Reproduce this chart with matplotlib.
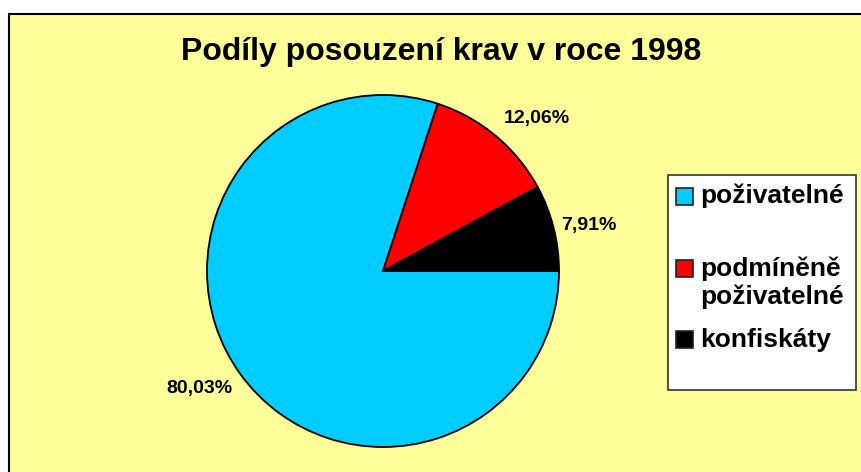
import matplotlib
matplotlib.use('Agg')
import matplotlib.pyplot as plt
import matplotlib.transforms as mtransforms
from matplotlib.patches import Rectangle

plt.rcParams['font.family'] = ['Liberation Sans', 'DejaVu Sans']

# data
categories = ['poživatelné', 'podmíněně\npoživatelné', 'konfiskáty']
values = [80.03, 12.06, 7.91]
colors = ['#00CCFF', '#FF0000', '#000000']
title = 'Podíly posouzení krav v roce 1998'

W, H = 861, 472


def px(x, y):
    # pixel (from top-left) -> figure fraction
    return x / W, 1 - y / H


fig = plt.figure(figsize=(W / 100, H / 100), dpi=100)
fig.patch.set_facecolor('white')

# chart area (runs off right and bottom edge)
x0, y0 = px(8.5, 13.5)
fig.patches.append(Rectangle((x0, -0.1), 1.2, y0 + 0.1, transform=fig.transFigure,
                             facecolor='#FFFF99', edgecolor='black', linewidth=1.5, zorder=-5))

fig.text(*px(441, 52), title, ha='center', va='center', fontsize=23, fontweight='bold')

# pie
cx, cy, r = 383, 271, 176
ax = fig.add_axes([(cx - r) / W, (H - cy - r) / H, 2 * r / W, 2 * r / H])
ax.set_zorder(2)
ax.set_facecolor('none')
wedges, texts, autotexts = ax.pie(
    values, colors=colors, startangle=0, counterclock=False,
    wedgeprops=dict(edgecolor='black', linewidth=1.3),
    autopct=lambda p: f'{p:.2f}%'.replace('.', ','), pctdistance=1.22,
    textprops=dict(fontsize=14, fontweight='bold', color='black'))
ax.set_xlim(-1.0, 1.0)
ax.set_ylim(-1.0, 1.0)
ax.set_aspect('equal')

# nudge data labels a bit (Excel places them slightly differently)
nudges = [(-7, 6), (12, -9), (-2, -5)]
for t, (dx, dy) in zip(autotexts, nudges):
    t.set_transform(ax.transData + mtransforms.ScaledTranslation(dx / 72, dy / 72, fig.dpi_scale_trans))

# legend box
lx, ly = px(667.5, 174.5)
lx2, ly2 = px(855.5, 389.5)
fig.patches.append(Rectangle((lx, ly2), lx2 - lx, ly - ly2, transform=fig.transFigure,
                             facecolor='white', edgecolor='#333333', linewidth=1.2, zorder=1))

marker_y = [196, 268, 339]
text_y = [196, 269, 340]
for cat, col, my, ty in zip(categories, colors, marker_y, text_y):
    sx, sy = px(676, my + 8.5)
    fig.patches.append(Rectangle((sx, sy), 17 / W, 17 / H, transform=fig.transFigure,
                                 facecolor=col, edgecolor='#222222', linewidth=1.2, zorder=2))
    lines = cat.split('\n')
    for i, line in enumerate(lines):
        fig.text(*px(700, ty + i * 28), line, ha='left', va='center',
                 fontsize=19, fontweight='bold', zorder=3)

fig.savefig('out.png', dpi=100, facecolor=fig.get_facecolor())
